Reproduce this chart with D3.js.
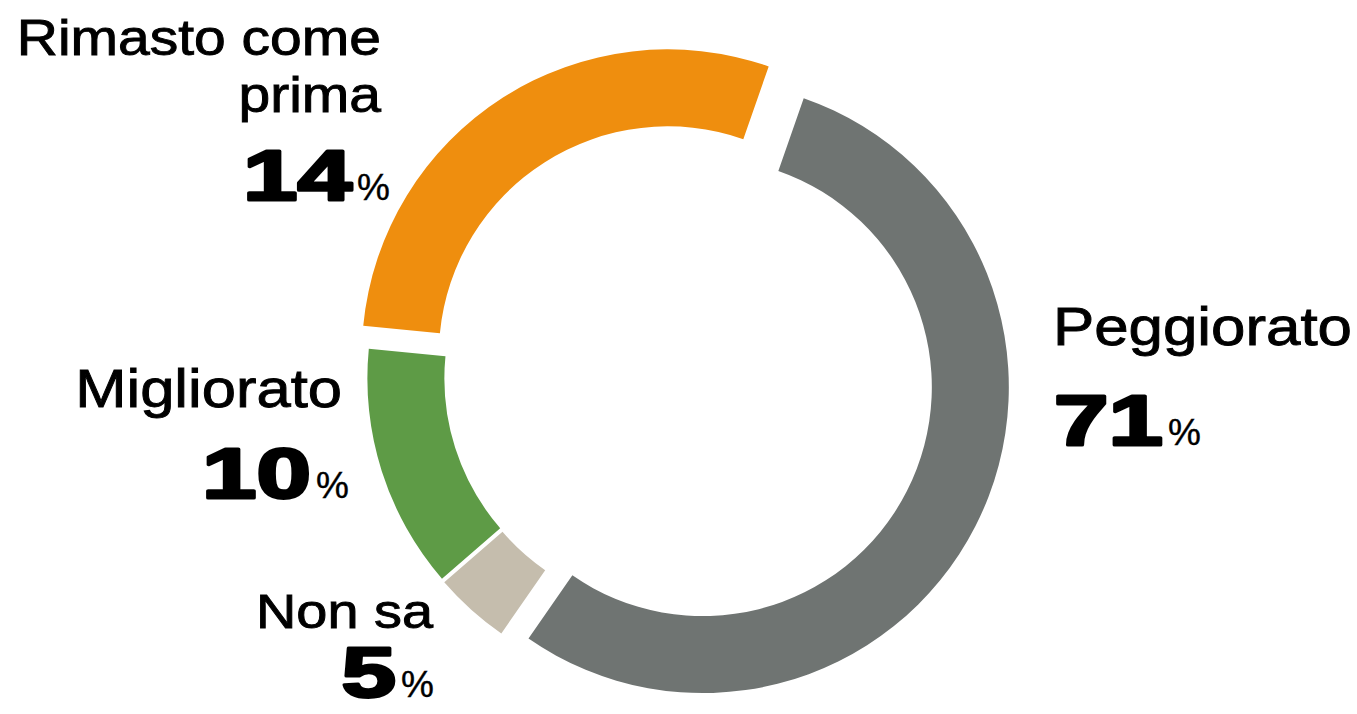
<!DOCTYPE html>
<html>
<head>
<meta charset="utf-8">
<script src="https://cdn.jsdelivr.net/npm/d3@7"></script>
<style>
  html, body { margin: 0; padding: 0; background: #ffffff; }
  svg { display: block; }
</style>
</head>
<body>
<svg id="chart" width="1357" height="714"></svg>
<script>
// ---- data ----
const categories = ["Peggiorato", "Non sa", "Migliorato", "Rimasto come prima"];
const labelLines = [["Peggiorato"], ["Non sa"], ["Migliorato"], ["Rimasto come", "prima"]];
const percentValues = [71, 5, 10, 14];          // printed percentages
const arcShares = [54.3, 4.0, 12.9, 28.8];      // slice sizes as drawn in the picture
const colors = ["#6f7472", "#c5bdad", "#5e9b46", "#ef8e0e"];

// ---- layout ----
const W = 1357, H = 714;
const center = { x: 681, y: 376 };
const outerR = 306, innerR = 229;
const startDeg = 19.25;
const explode = [24.5, 8, 8, 24.5];
const numScaleX = 1.38;

const labelLayout = [
  { anchor: "start", x: 1053, y: 345, fs: 54, sx: 1.145, lh: 56, numX: 1054, numY: 445, numAnchor: "start" },
  { anchor: "end",   x: 433,  y: 628, fs: 49, sx: 1.14, lh: 56, numX: 396,  numY: 697, numAnchor: "end" },
  { anchor: "end",   x: 342,  y: 407, fs: 54, sx: 1.14, lh: 56, numX: 311,  numY: 498, numAnchor: "end" },
  { anchor: "end",   x: 381,  y: 55,  fs: 50, sx: 1.14, lh: 56.5, numX: 352, numY: 200, numAnchor: "end" }
];

const svg = d3.select("#chart");

const pie = d3.pie()
  .sort(null)
  .value(d => d)
  .startAngle(startDeg * Math.PI / 180)
  .endAngle(startDeg * Math.PI / 180 + 2 * Math.PI);

const arc = d3.arc().innerRadius(innerR).outerRadius(outerR);

const g = svg.append("g").attr("transform", `translate(${center.x},${center.y})`);

g.selectAll("path")
  .data(pie(arcShares))
  .join("path")
  .attr("d", arc)
  .attr("fill", (d, i) => colors[i])
  .attr("transform", (d, i) => {
    const a = (d.startAngle + d.endAngle) / 2;
    return `translate(${explode[i] * Math.sin(a)},${-explode[i] * Math.cos(a)})`;
  });

// ---- labels ----
const font = "'Liberation Sans', Arial, Helvetica, sans-serif";

categories.forEach((c, i) => {
  const L = labelLayout[i];
  labelLines[i].forEach((line, k) => {
    svg.append("text")
      .attr("transform", `translate(${L.x},${L.y + k * L.lh}) scale(${L.sx},1)`)
      .attr("text-anchor", L.anchor)
      .attr("font-family", font)
      .attr("font-size", L.fs)
      .attr("fill", "#000")
      .attr("stroke", "#000")
      .attr("stroke-width", 0.9)
      .text(line);
  });

  // big number
  const num = svg.append("text")
    .attr("transform", `translate(${L.numX},${L.numY}) scale(${numScaleX},1)`)
    .attr("text-anchor", L.numAnchor)
    .attr("font-family", font)
    .attr("font-weight", 700)
    .attr("font-size", 71)
    .attr("fill", "#000")
    .attr("stroke", "#000")
    .attr("stroke-width", 3)
    .attr("stroke-linejoin", "round")
    .text(percentValues[i]);

  const bb = num.node().getBBox();
  const rightEdge = L.numAnchor === "start"
    ? L.numX + bb.width * numScaleX
    : L.numX;
  svg.append("text")
    .attr("x", rightEdge + 5)
    .attr("y", L.numY)
    .attr("font-family", font)
    .attr("font-size", 37)
    .attr("fill", "#000")
    .attr("stroke", "#000")
    .attr("stroke-width", 0.4)
    .text("%");
});
</script>
</body>
</html>
